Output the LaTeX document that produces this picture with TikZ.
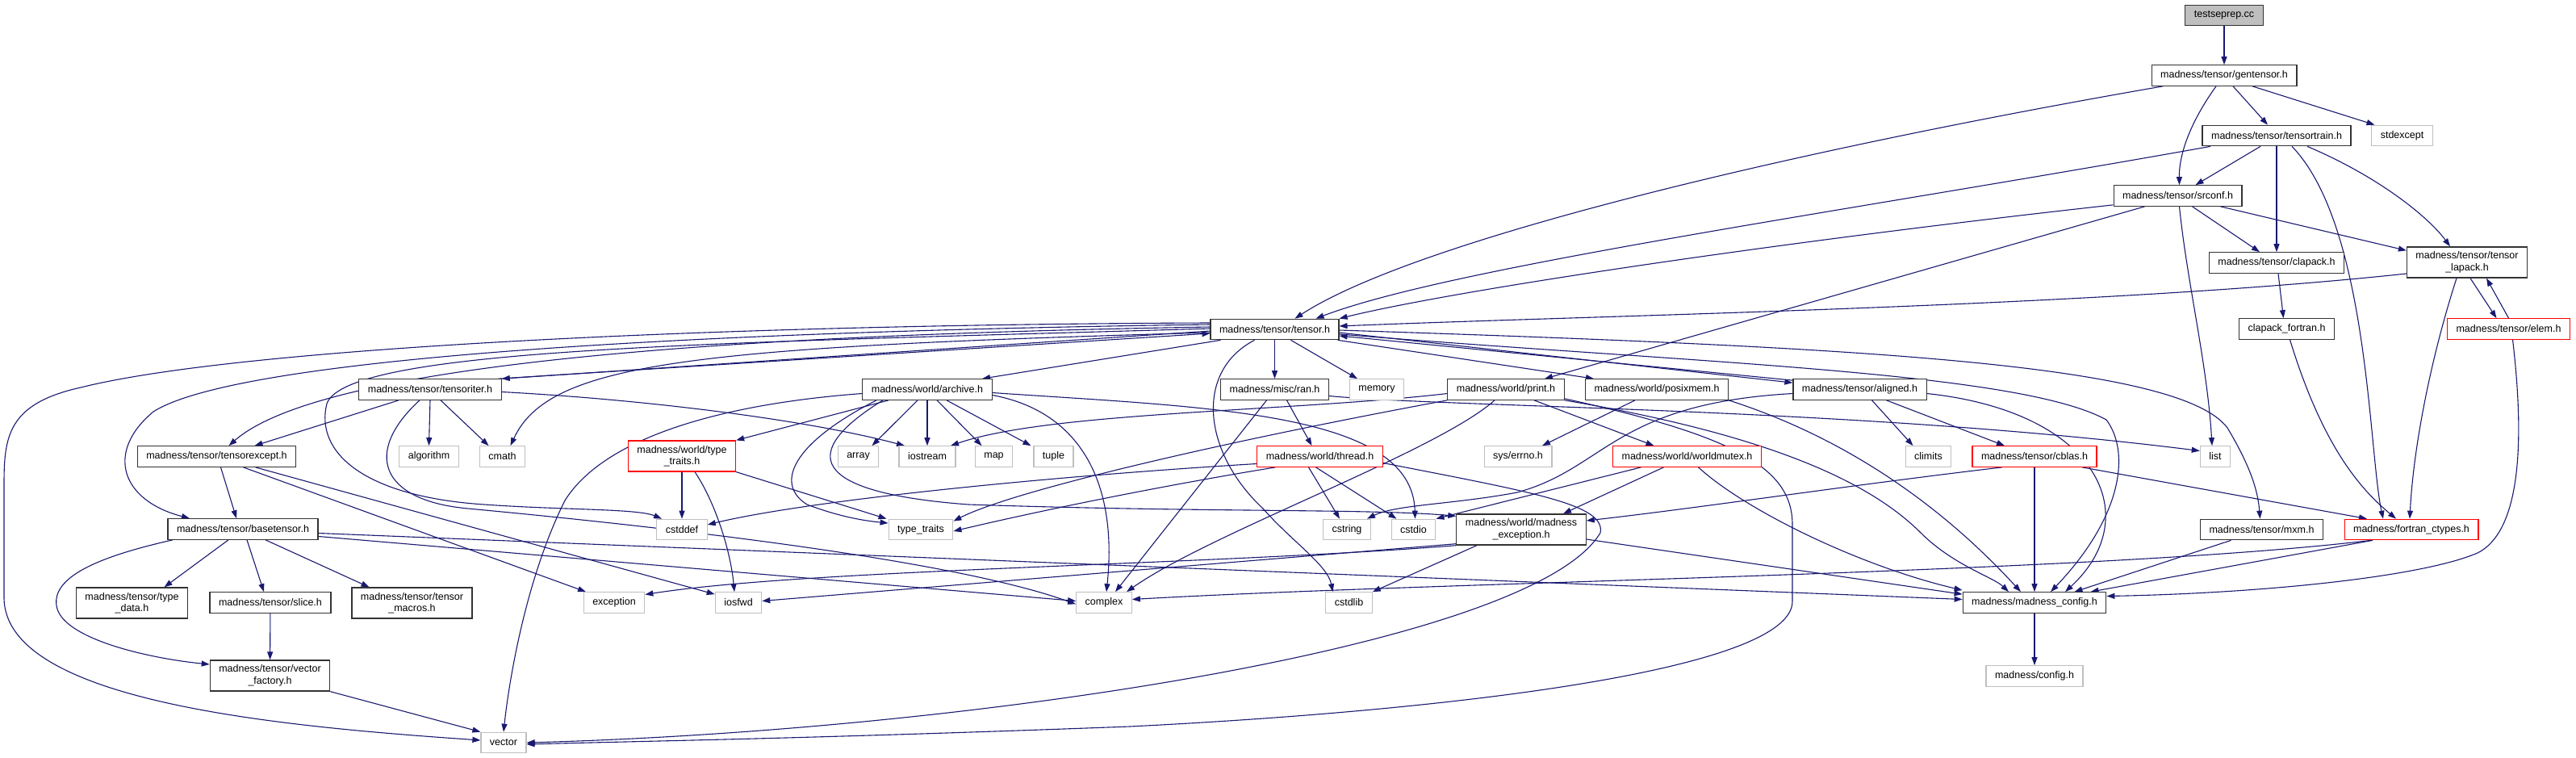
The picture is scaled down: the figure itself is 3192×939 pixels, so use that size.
\documentclass[tikz,border=0pt]{standalone}
\usepackage{fontspec}
\setmainfont{Liberation Sans}
\usetikzlibrary{arrows.meta}
\definecolor{depblue}{RGB}{25,25,112}
\definecolor{sysgray}{RGB}{191,191,191}
\pgfdeclarelayer{edges}
\pgfsetlayers{edges,main}

\begin{document}
\begin{tikzpicture}[x=1pt,y=-1pt]
    \tikzstyle{incbox}=[rectangle, minimum height=25.5pt, inner xsep=11pt, inner ysep=6pt, line width=1.2pt, align=center, fill=white, font=\fontsize{12.5}{14.5}\selectfont]
    \tikzstyle{hdr}=[incbox, draw=black!80]
    \tikzstyle{sys}=[incbox, draw=sysgray]
    \tikzstyle{trunc}=[incbox, draw=red]
    \tikzstyle{root}=[incbox, draw=black!80, fill=sysgray]
    \tikzstyle{dep}=[draw=depblue, line width=1.1pt, -{Triangle[length=10pt,width=7pt]}]
    \useasboundingbox (0,0) rectangle (3192,939);

    \node[root] (testseprep) at (2756,19) {testseprep.cc};
    \node[hdr] (gentensor) at (2756,93.5) {madness/tensor/gentensor.h};
    \node[hdr] (tensortrain) at (2821,168) {madness/tensor/tensortrain.h};
    \node[sys] (stdexcept) at (2976.5,168) {stdexcept};
    \node[hdr] (srconf) at (2698.5,242.5) {madness/tensor/srconf.h};
    \node[hdr] (clapack) at (2821,325.5) {madness/tensor/clapack.h};
    \node[hdr] (tlapack) at (3057,325) {madness/tensor/tensor\\\_lapack.h};
    \node[hdr] (tensor) at (1579.5,408) {madness/tensor/tensor.h};
    \node[hdr] (clapackf) at (2833.5,407.5) {clapack\_fortran.h};
    \node[trunc] (elem) at (3108.5,407.5) {madness/tensor/elem.h};
    \node[hdr] (tensoriter) at (533,482.5) {madness/tensor/tensoriter.h};
    \node[hdr] (archive) at (1149,482.5) {madness/world/archive.h};
    \node[hdr] (ran) at (1579.5,482.5) {madness/misc/ran.h};
    \node[sys] (memory) at (1706,482.5) {memory};
    \node[hdr] (print) at (1866,482.5) {madness/world/print.h};
    \node[hdr] (posixmem) at (2053,482.5) {madness/world/posixmem.h};
    \node[hdr] (aligned) at (2304.5,482.5) {madness/tensor/aligned.h};
    \node[hdr] (tensorexcept) at (268.5,565.5) {madness/tensor/tensorexcept.h};
    \node[sys] (algorithm) at (531.5,565.5) {algorithm};
    \node[sys] (cmath) at (622.5,565.5) {cmath};
    \node[trunc] (wtypetraits) at (845,565) {madness/world/type\\\_traits.h};
    \node[sys] (array) at (1063.5,565.5) {array};
    \node[sys] (iostream) at (1149,565.5) {iostream};
    \node[sys] (map) at (1231.5,565.5) {map};
    \node[sys] (tuple) at (1305.5,565.5) {tuple};
    \node[trunc] (thread) at (1635.5,565.5) {madness/world/thread.h};
    \node[sys] (errno) at (1881,565.5) {sys/errno.h};
    \node[trunc] (worldmutex) at (2090.5,565.5) {madness/world/worldmutex.h};
    \node[sys] (climits) at (2389.5,565.5) {climits};
    \node[trunc] (cblas) at (2521,565.5) {madness/tensor/cblas.h};
    \node[sys] (list) at (2745,565.5) {list};
    \node[hdr] (basetensor) at (301,655.5) {madness/tensor/basetensor.h};
    \node[sys] (cstddef) at (845,656) {cstddef};
    \node[sys] (typetraits) at (1141,656) {type\_traits};
    \node[sys] (cstring) at (1669,656) {cstring};
    \node[sys] (cstdio) at (1751.5,656) {cstdio};
    \node[hdr] (mexception) at (1885,656) {madness/world/madness\\\_exception.h};
    \node[hdr] (mxm) at (2802.5,656) {madness/tensor/mxm.h};
    \node[trunc] (fctypes) at (2988,656) {madness/fortran\_ctypes.h};
    \node[hdr] (typedata) at (163.5,747) {madness/tensor/type\\\_data.h};
    \node[hdr] (slice) at (335,746.5) {madness/tensor/slice.h};
    \node[hdr] (tmacros) at (510.5,747) {madness/tensor/tensor\\\_macros.h};
    \node[sys] (exception) at (761,746.5) {exception};
    \node[sys] (iosfwd) at (915,746.5) {iosfwd};
    \node[sys] (complex) at (1368,746.5) {complex};
    \node[sys] (cstdlib) at (1671.5,746.5) {cstdlib};
    \node[hdr] (mconfig) at (2521,746.5) {madness/madness\_config.h};
    \node[hdr] (vfactory) at (334.5,837) {madness/tensor/vector\\\_factory.h};
    \node[sys] (config) at (2521,837.5) {madness/config.h};
    \node[sys] (vector) at (624,920) {vector};

    \begin{pgfonlayer}{edges}
    \draw[dep] (testseprep) -- (gentensor);
    \draw[dep] ([xshift=-76]gentensor.south) .. controls (2200,190) and (1750,300) .. ([xshift=25]tensor.north);
    \draw[dep] ([xshift=-10]gentensor.south) .. controls (2715,150) and (2700,190) .. ([xshift=2]srconf.north);
    \draw[dep] ([xshift=11]gentensor.south) -- ([xshift=-11]tensortrain.north);
    \draw[dep] ([xshift=35]gentensor.south) -- ([xshift=-34]stdexcept.north);
    \draw[dep] ([xshift=-82]tensortrain.south) .. controls (2300,260) and (1800,330) .. ([xshift=51]tensor.north);
    \draw[dep] ([xshift=-20]tensortrain.south) -- ([xshift=22]srconf.north);
    \draw[dep] (tensortrain) -- (clapack);
    \draw[dep] ([xshift=38]tensortrain.south) .. controls (2950,220) and (3010,270) .. ([xshift=-21]tlapack.north);
    \draw[dep] ([xshift=19]tensortrain.south) .. controls (2935,280) and (2935,560) .. ([xshift=-35]fctypes.north);
    \draw[dep] ([yshift=2]srconf.south west) .. controls (2200,300) and (1800,360) .. (tensor.north east);
    \draw[dep] ([xshift=-41]srconf.south) -- ([xshift=48]print.north);
    \draw[dep] ([xshift=18]srconf.south) -- ([xshift=-21]clapack.north);
    \draw[dep] ([xshift=53]srconf.south) -- ([yshift=-5]tlapack.north west);
    \draw[dep] ([xshift=2]srconf.south) .. controls (2710,350) and (2735,450) .. ([xshift=-4]list.north);
    \draw[dep] ([xshift=2]clapack.south) -- ([xshift=-4]clapackf.north);
    \draw[dep] ([xshift=4]clapackf.south) .. controls (2880,560) and (2930,610) .. ([xshift=-19]fctypes.north);
    \draw[dep] ([yshift=-14]tlapack.west) .. controls (2600,380) and (2000,390) .. ([yshift=4]tensor.east);
    \draw[dep] ([xshift=4]tlapack.south) -- ([xshift=-15]elem.north);
    \draw[dep] (elem.north) -- ([xshift=24]tlapack.south);
    \draw[dep] ([xshift=-13]tlapack.south) .. controls (3010,450) and (2990,560) .. ([xshift=-2]fctypes.north);
    \draw[dep] ([xshift=5]elem.south) .. controls (3130,560) and (3120,660) .. (3070,685) .. controls (3000,715) and (2800,735) .. ([yshift=8]mconfig.east);

    \draw[dep] ([yshift=-2]tensor.west) -- (tensoriter.north east);
    \draw[dep] ([xshift=-4]tensoriter.north east) -- ([yshift=-5]tensor.west);
    \draw[dep] ([yshift=3]tensor.west) .. controls (900,415) and (400,450) .. ([xshift=15]tensorexcept.north);
    \draw[dep] ([yshift=6]tensor.west) .. controls (900,410) and (300,440) .. (190,510) .. controls (130,560) and (150,620) .. ([xshift=-66]basetensor.north);
    \draw[dep] ([yshift=8]tensor.west) .. controls (900,402) and (300,430) .. (100,480) .. controls (10,500) and (5,540) .. (5,600) -- (5,740) .. controls (5,870) and (350,900) .. ([yshift=3]vector.west);
    \draw[dep] ([yshift=-4]tensor.west) .. controls (850,430) and (680,450) .. ([xshift=10]cmath.north);
    \draw[dep] ([yshift=1]tensor.west) .. controls (900,425) and (430,430) .. (405,500) .. controls (390,560) and (450,615) .. (600,625) .. controls (700,632) and (790,630) .. ([xshift=-25]cstddef.north);
    \draw[dep] ([xshift=-67]tensor.south) -- ([xshift=68]archive.north);
    \draw[dep] (tensor) -- (ran);
    \draw[dep] ([xshift=20]tensor.south) -- ([xshift=-24]memory.north);
    \draw[dep] ([xshift=78]tensor.south) -- ([xshift=-78]posixmem.north);
    \draw[dep] ([yshift=-4]tensor.east) -- ([yshift=-5]aligned.north west);
    \draw[dep] ([yshift=-2]aligned.north west) -- ([yshift=-8]tensor.east);
    \draw[dep] ([xshift=-25]tensor.south) .. controls (1480,460) and (1490,560) .. (1565,630) .. controls (1600,670) and (1645,700) .. ([xshift=-20]cstdlib.north);
    \draw[dep] ([yshift=-1]tensor.east) .. controls (2300,430) and (2700,450) .. (2760,530) .. controls (2790,580) and (2798,610) .. ([xshift=-2]mxm.north);
    \draw[dep] ([yshift=-6]tensor.east) .. controls (2100,450) and (2500,460) .. (2610,520) .. controls (2640,560) and (2630,640) .. ([xshift=20]mconfig.north);

    \draw[dep] ([xshift=-39]tensoriter.south) -- ([xshift=47]tensorexcept.north);
    \draw[dep] (tensoriter.south) -- (algorithm.north);
    \draw[dep] ([xshift=13]tensoriter.south) -- ([xshift=-17]cmath.north);
    \draw[dep] ([yshift=-3]tensoriter.east) .. controls (800,495) and (1000,520) .. ([xshift=-28]iostream.north);
    \draw[dep] ([xshift=-13]tensoriter.south) .. controls (450,560) and (470,620) .. (580,630) .. controls (900,660) and (1200,700) .. ([yshift=-2]complex.west);

    \draw[dep] ([xshift=5]tensorexcept.south) -- ([xshift=-8]basetensor.north);
    \draw[dep] ([xshift=33]tensorexcept.south) -- ([xshift=-35]exception.north);
    \draw[dep] ([xshift=48]tensorexcept.south) -- ([yshift=-3]iosfwd.north west);

    \draw[dep] ([xshift=-18]basetensor.south) -- ([xshift=40]typedata.north);
    \draw[dep] ([xshift=5]basetensor.south) -- ([xshift=-8]slice.north);
    \draw[dep] ([xshift=28]basetensor.south) -- ([xshift=-53]tmacros.north);
    \draw[dep] ([xshift=-87]basetensor.south) .. controls (120,690) and (65,715) .. (70,750) .. controls (75,790) and (180,815) .. ([yshift=14]vfactory.west);
    \draw[dep] ([yshift=-5]basetensor.east) -- ([yshift=4]mconfig.west);
    \draw[dep] ([yshift=-9]basetensor.east) -- ([yshift=2]complex.west);
    \draw[dep] (slice) -- (vfactory);
    \draw[dep] (vfactory.south east) -- (vector.north west);

    \draw[dep] ([xshift=-48]archive.south) -- (wtypetraits.north east);
    \draw[dep] ([xshift=-12]archive.south) -- ([xshift=17]array.north);
    \draw[dep] (archive) -- (iostream);
    \draw[dep] ([xshift=12]archive.south) -- ([xshift=-15]map.north);
    \draw[dep] ([xshift=24]archive.south) -- ([xshift=-28]tuple.north);
    \draw[dep] ([yshift=-5]archive.west) .. controls (900,500) and (750,540) .. (700,620) .. controls (650,720) and (630,850) .. (vector.north);
    \draw[dep] ([xshift=-63]archive.south) .. controls (980,550) and (960,600) .. (1000,625) .. controls (1040,640) and (1070,645) .. ([yshift=8]typetraits.west);
    \draw[dep] ([xshift=-55]archive.south) .. controls (990,560) and (1000,610) .. (1200,625) .. controls (1500,635) and (1700,630) .. ([yshift=-3]mexception.north west);
    \draw[dep] ([yshift=-7]archive.east) .. controls (1340,510) and (1385,600) .. ([xshift=3]complex.north);
    \draw[dep] ([yshift=-4]archive.east) .. controls (1500,505) and (1750,510) .. ([xshift=2]cstdio.north);

    \draw[dep] ([xshift=15]ran.south) -- ([xshift=-10]thread.north);
    \draw[dep] ([xshift=-10]ran.south) -- ([xshift=14]complex.north);
    \draw[dep] ([yshift=-8]ran.east) .. controls (1800,505) and (2300,505) .. ([yshift=7]list.west);

    \draw[dep] ([yshift=-9]thread.west) .. controls (1300,590) and (1000,620) .. ([yshift=6]cstddef.east);
    \draw[dep] ([xshift=-55]thread.south) .. controls (1450,600) and (1300,630) .. ([yshift=-2]typetraits.east);
    \draw[dep] ([xshift=-14]thread.south) -- ([xshift=-9]cstring.north);
    \draw[dep] ([xshift=-5]thread.south) -- ([xshift=-21]cstdio.north);
    \draw[dep] ([yshift=-8]thread.east) .. controls (1900,610) and (1990,625) .. (1983,660) .. controls (1900,800) and (1200,905) .. (vector.east);

    \draw[dep] ([yshift=-5]print.west) .. controls (1600,510) and (1300,510) .. ([xshift=29]iostream.north);
    \draw[dep] (print.south west) .. controls (1500,550) and (1250,610) .. ([yshift=-3]typetraits.north east);
    \draw[dep] ([xshift=-14]print.south) .. controls (1780,560) and (1500,660) .. ([xshift=28]complex.north);
    \draw[dep] ([xshift=35]print.south) -- ([xshift=-41]worldmutex.north);
    \draw[dep] ([yshift=2]print.south east) .. controls (2150,540) and (2221,580) .. (2221,650) -- (2221,745) .. controls (2221,830) and (1800,880) .. (1400,900) .. controls (1000,915) and (800,918) .. ([yshift=-2]vector.east);
    \draw[dep] (print.south east) .. controls (2200,540) and (2320,600) .. (2380,660) .. controls (2420,700) and (2470,715) .. ([xshift=-32]mconfig.north);

    \draw[dep] ([xshift=-27]posixmem.south) -- ([xshift=30]errno.north);
    \draw[dep] (posixmem.south east) .. controls (2280,540) and (2400,620) .. ([xshift=-17]mconfig.north);

    \draw[dep] ([xshift=15]aligned.south) -- ([xshift=-19]climits.north);
    \draw[dep] ([xshift=33]aligned.south) -- ([xshift=-37]cblas.north);
    \draw[dep] ([yshift=-5]aligned.east) .. controls (2600,510) and (2660,640) .. ([xshift=38]mconfig.north);
    \draw[dep] ([yshift=-5]aligned.west) .. controls (2000,500) and (1990,580) .. (1880,610) .. controls (1800,625) and (1730,625) .. ([xshift=-5]cstring.north east);

    \draw[dep] ([xshift=-57]worldmutex.south) -- (cstdio.north east);
    \draw[dep] ([xshift=-29]worldmutex.south) -- ([xshift=52]mexception.north);
    \draw[dep] ([xshift=14]worldmutex.south) .. controls (2160,630) and (2300,700) .. ([yshift=2]mconfig.north west);

    \draw[dep] ([xshift=-40]cblas.south) .. controls (2300,600) and (2100,630) .. ([yshift=11]mexception.east);
    \draw[dep] (cblas) -- (mconfig);
    \draw[dep] ([xshift=59]cblas.south) -- ([xshift=-55]fctypes.north);

    \draw[dep] ([yshift=-12]mexception.east) -- ([yshift=-3]mconfig.north west);
    \draw[dep] (mexception.south west) .. controls (1500,700) and (1000,705) .. ([yshift=10]exception.east);
    \draw[dep] ([yshift=2]mexception.south west) -- ([yshift=2]iosfwd.east);
    \draw[dep] ([xshift=-55]mexception.south) -- (cstdlib.north east);

    \draw[dep] ([xshift=-50]fctypes.south) .. controls (2600,710) and (1800,720) .. ([yshift=4]complex.east);
    \draw[dep] ([xshift=-48]fctypes.south) -- ([xshift=-20]mconfig.north east);
    \draw[dep] ([xshift=-38]mxm.south) -- ([xshift=-40]mconfig.north east);
    \draw[dep] (mconfig) -- (config);

    \draw[dep] (wtypetraits) -- (cstddef);
    \draw[dep] ([xshift=16]wtypetraits.south) .. controls (885,620) and (905,680) .. ([xshift=-5]iosfwd.north);
    \draw[dep] (wtypetraits.south east) -- ([xshift=-2]typetraits.north west);
    \end{pgfonlayer}
\end{tikzpicture}
\end{document}
